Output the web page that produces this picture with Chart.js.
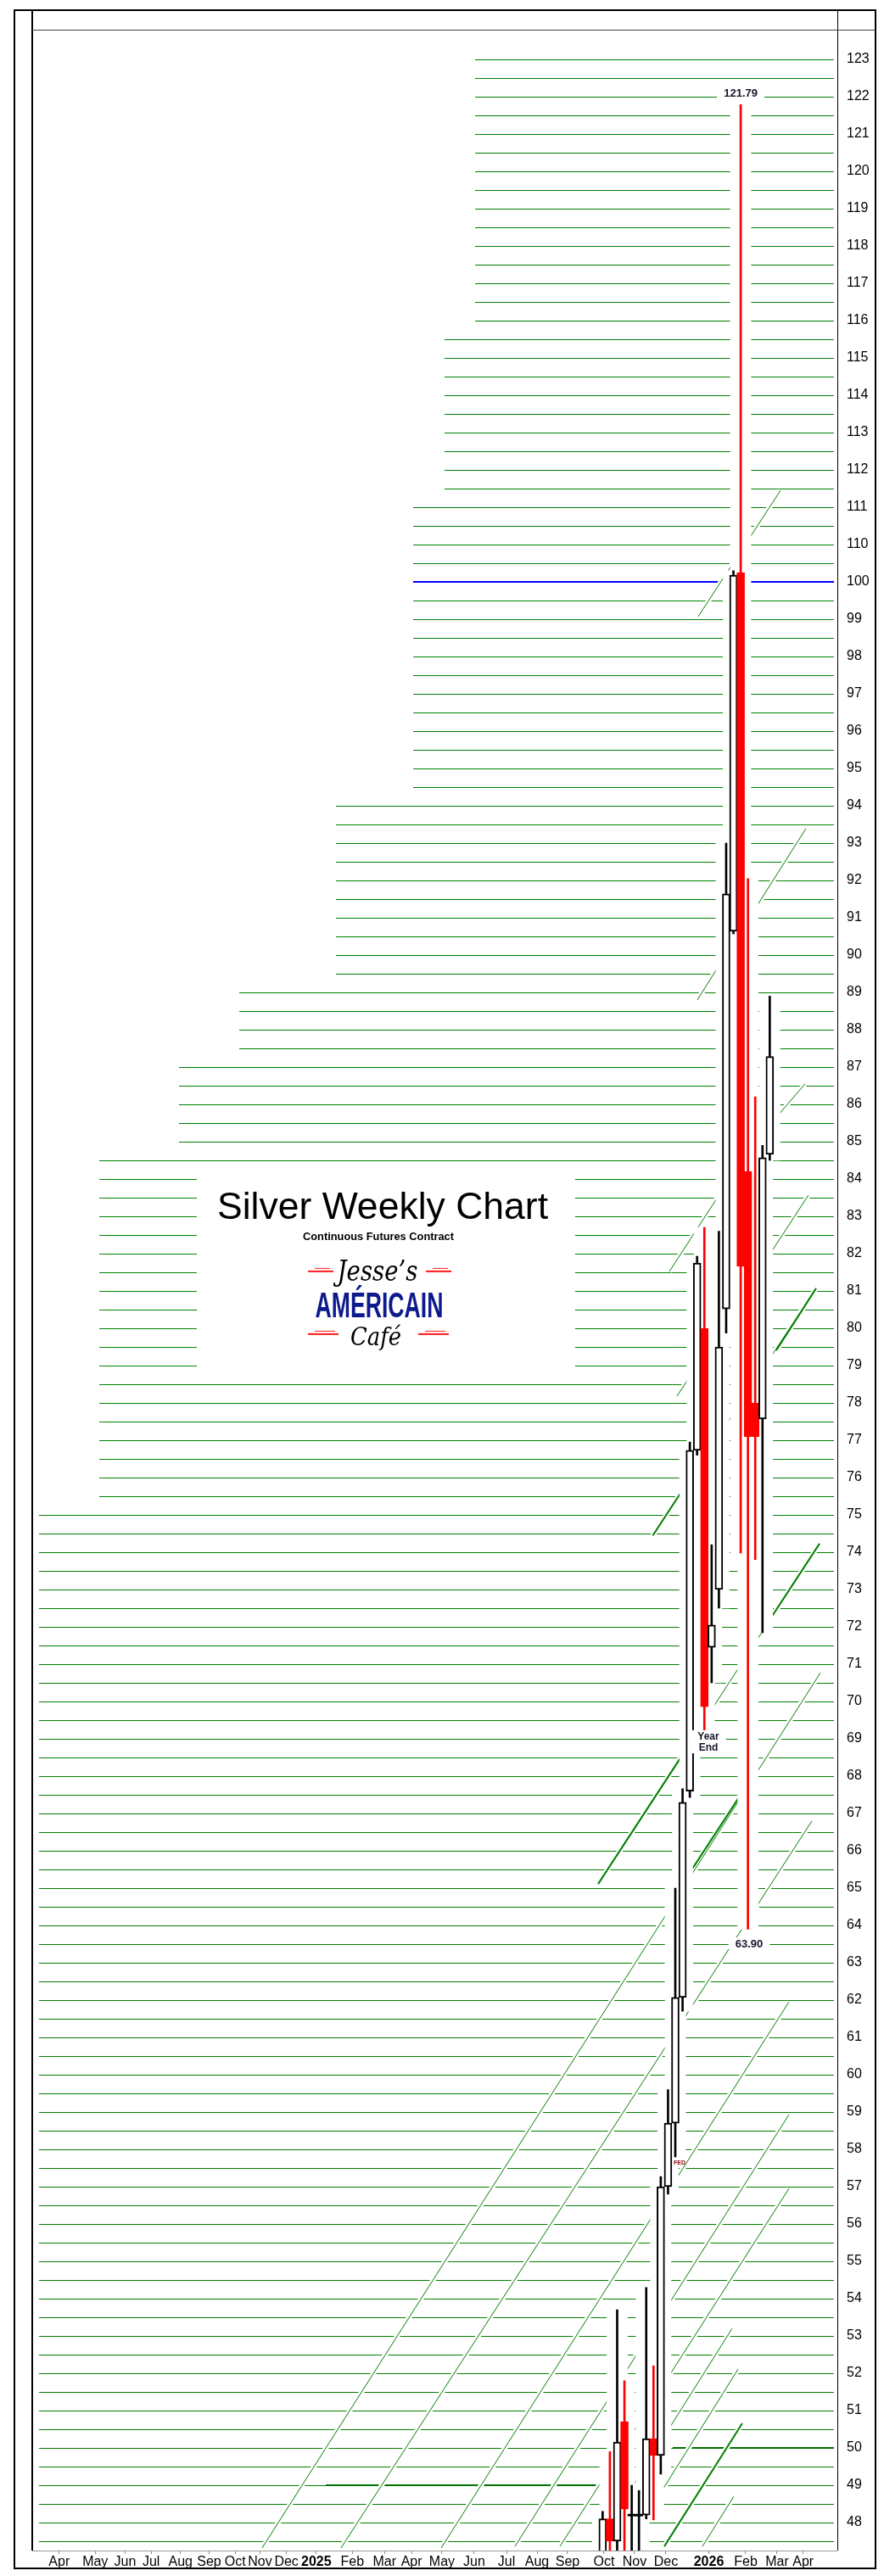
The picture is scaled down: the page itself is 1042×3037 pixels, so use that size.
<!DOCTYPE html>
<html>
<head>
<meta charset="utf-8">
<script src="https://cdn.jsdelivr.net/npm/chart.js@4/dist/chart.umd.min.js"></script>
<style>
  html, body { margin: 0; padding: 0; background: #fff; }
  canvas { display: block; }
</style>
</head>
<body>
<canvas id="chart" width="1042" height="3037"></canvas>
<script>
// Weekly bars: bar index on the x axis, prices in dollars
const barIndex = [79, 80, 81, 82, 83, 84, 85, 86, 87, 88, 89, 90, 91, 92, 93, 94, 95, 96, 97, 98, 99, 100, 101, 102];
const opens  = [46.9, 48.1, 47.5, 50.7, 48.2, 48.2, 48.2, 50.25, 49.8, 57.0, 58.7, 62.07, 67.6, 76.73, 80.0, 71.45, 73.0, 80.52, 90.64, 102.4, 84.2, 78.0, 77.57, 84.66];
const highs  = [48.3, 49.9, 53.7, 51.8, 49.0, 48.86, 54.3, 52.2, 57.27, 59.6, 65.0, 67.66, 76.95, 81.93, 82.7, 74.2, 82.6, 93.0, 103.0, 121.79, 92.05, 86.2, 84.9, 88.9];
const lows   = [46.4, 46.9, 47.0, 47.0, 46.9, 46.9, 48.1, 48.07, 49.3, 56.8, 57.8, 61.7, 67.43, 76.6, 69.2, 70.5, 72.5, 79.87, 90.57, 73.98, 63.9, 73.8, 71.84, 84.5];
const closes = [48.1, 47.5, 50.16, 48.36, 48.2, 48.2, 50.25, 49.8, 57.0, 58.7, 62.07, 67.3, 76.73, 81.75, 69.86, 72.05, 79.5, 91.64, 101.8, 81.66, 77.1, 77.1, 84.57, 87.28];

// Month labels along the bottom and where they sit (bar index)
const monthLabels = ['Apr', 'May', 'Jun', 'Jul', 'Aug', 'Sep', 'Oct', 'Nov', 'Dec', '2025', 'Feb', 'Mar', 'Apr', 'May', 'Jun', 'Jul', 'Aug', 'Sep', 'Oct', 'Nov', 'Dec', '2026', 'Feb', 'Mar', 'Apr'];
const monthPos    = [4.21, 9.17, 13.28, 16.86, 20.9, 24.84, 28.42, 31.84, 35.48, 39.59, 44.55, 48.98, 52.7, 56.89, 61.32, 65.77, 69.97, 74.17, 79.19, 83.39, 87.71, 93.61, 98.69, 103.01, 106.6];

// Price ticks on the right (axis is broken between 100 and 110)
const tickFrom = 48;
const tickTo = 123;

// Half-point guide lines: lowest level of each step and the bar where it starts
const stairLow   = [116, 111.5, 94.5, 89.5, 87.5, 85, 75.5, 47.5];
const stairStart = [61.45, 57.24, 52.92, 42.3, 28.99, 20.7, 9.72, 1.43];

// Heavier levels: [price, from bar, to bar]
const keyLevels = [[50, 88.65, 110.83], [49, 40.9, 78.1]];

// Rising trend segments [bar1, price1, bar2, price2]
const trendThin = [
  [32.14, 47.32, 108.97, 70.77], [43.0, 47.32, 107.8, 66.8], [56.78, 47.32, 104.64, 61.95],
  [66.93, 47.36, 104.64, 58.93], [73.12, 47.36, 104.64, 56.95], [77.79, 47.32, 96.82, 53.2],
  [82.23, 47.32, 97.64, 52.11], [92.73, 47.36, 97.05, 48.7], [78.38, 65.11, 108.85, 74.23],
  [85.91, 74.45, 108.38, 81.07], [89.23, 78.18, 107.33, 83.57], [88.18, 81.52, 94.72, 83.48],
  [103.24, 85.73, 106.86, 86.55], [92.03, 88.8, 106.98, 93.39], [92.15, 99.07, 103.48, 111.45]
];
const trendThick = [
  [85.91, 74.45, 90.05, 75.68], [102.9, 79.41, 108.38, 81.07], [101.96, 72.18, 108.85, 74.23],
  [78.38, 65.11, 89.82, 68.52], [91.22, 65.48, 98.46, 67.64], [87.48, 47.36, 98.22, 50.66]
];

// Text notes on the chart [text, bar, price]
const notes = [['121.79', 98.0, 122.11], ['63.90', 99.16, 63.52], ['Year', 93.55, 69.07], ['End', 93.55, 68.77]];
const fedNote = ['FED', 89.58, 57.64];

// Title panel corners [bar1, price1, bar2, price2]
const titleBox = [23.15, 84.23, 75.2, 78.77];

// price -> axis position (100..110 squeezed into one step)
function toAxis(p) {
  if (p <= 100) return p;
  if (p <= 110) return 100 + (p - 100) / 10;
  return p - 9;
}
function axisLabel(v) {
  return v <= 100 ? v : v + 9;
}

const GREEN = '#008000';
const candleColor = closes.map((c, k) => c < opens[k] ? '#ff0000' : '#000000');
const bodyFill = closes.map((c, k) => c < opens[k] ? '#ff0000' : (c === opens[k] ? '#000000' : '#ffffff'));

function span(k, a, b) {
  return { x: barIndex[k], y: [toAxis(a), toAxis(b)] };
}

function segPoints(list) {
  const pts = [];
  list.forEach(s => {
    pts.push({ x: s[0], y: toAxis(s[1]) });
    pts.push({ x: s[2], y: toAxis(s[3]) });
    pts.push({ x: s[2], y: null });
  });
  return pts;
}

function fitText(ctx, text, font, cx, base, w, color) {
  ctx.save();
  ctx.font = font;
  const m = ctx.measureText(text).width;
  ctx.translate(cx, base);
  ctx.scale(w / m, 1);
  ctx.fillStyle = color;
  ctx.textAlign = 'center';
  ctx.textBaseline = 'alphabetic';
  ctx.fillText(text, 0, 0);
  ctx.restore();
}

const decor = {
  id: 'decor',
  beforeDatasetsDraw(chart) {
    const { ctx, chartArea: a, scales: { x, y } } = chart;
    ctx.save();
    // half point guide lines
    for (let lv = stairLow[stairLow.length - 1]; lv <= tickTo + 0.001; lv += 0.5) {
      if (lv > 100 && lv < 110) continue;
      const g = stairLow.findIndex(low => lv >= low - 0.001);
      const x1 = Math.round(x.getPixelForValue(stairStart[g]));
      const x2 = a.right - 4;
      const py = Math.round(y.getPixelForValue(toAxis(lv)));
      if (lv === 100) {
        ctx.fillStyle = '#0000ff';
        ctx.fillRect(x1, py - 1, x2 - x1, 2);
      } else {
        ctx.fillStyle = GREEN;
        ctx.fillRect(x1, py, x2 - x1, 1);
      }
    }
    // the squeezed half step between 100 and 110
    const mid = Math.round(y.getPixelForValue(100.5));
    const xm = Math.round(x.getPixelForValue(stairStart[2]));
    ctx.fillStyle = GREEN;
    ctx.fillRect(xm, mid, a.right - 4 - xm, 1);
    // heavier levels
    keyLevels.forEach(k => {
      const py = Math.round(y.getPixelForValue(toAxis(k[0])));
      const x1 = x.getPixelForValue(k[1]);
      const x2 = x.getPixelForValue(k[2]);
      ctx.fillStyle = '#007000';
      ctx.fillRect(x1, py - 1, x2 - x1, 2);
    });
    // title panel
    const bx1 = x.getPixelForValue(titleBox[0]);
    const by1 = y.getPixelForValue(titleBox[1]);
    const bx2 = x.getPixelForValue(titleBox[2]);
    const by2 = y.getPixelForValue(titleBox[3]);
    ctx.fillStyle = '#ffffff';
    ctx.fillRect(bx1, by1, bx2 - bx1, by2 - by1);
    ctx.restore();
  },
  afterDatasetsDraw(chart) {
    const { ctx, scales: { x, y } } = chart;
    ctx.save();
    // notes
    ctx.textAlign = 'center';
    ctx.textBaseline = 'middle';
    notes.forEach(n => {
      const px = x.getPixelForValue(n[1]);
      const py = y.getPixelForValue(toAxis(n[2]));
      ctx.font = (n[0].length > 4 ? 'bold 13px' : 'bold 12px') + ' "Liberation Sans", Arial, sans-serif';
      const w = ctx.measureText(n[0]).width;
      ctx.fillStyle = '#ffffff';
      ctx.fillRect(px - w / 2 - 8, py - 7, w + 16, 14);
    });
    notes.forEach(n => {
      const px = x.getPixelForValue(n[1]);
      const py = y.getPixelForValue(toAxis(n[2]));
      ctx.font = (n[0].length > 4 ? 'bold 13px' : 'bold 12px') + ' "Liberation Sans", Arial, sans-serif';
      ctx.fillStyle = '#15152a';
      ctx.fillText(n[0], px, py + 1);
    });
    ctx.font = 'bold 7px "Liberation Sans", Arial, sans-serif';
    ctx.fillStyle = '#8b0000';
    ctx.fillText(fedNote[0], x.getPixelForValue(fedNote[1]), y.getPixelForValue(fedNote[2]));

    // title and logo
    const bx1 = x.getPixelForValue(titleBox[0]);
    const by1 = y.getPixelForValue(titleBox[1]);
    const cx = bx1 + 219;
    fitText(ctx, 'Silver Weekly Chart', '44px "Liberation Sans", Arial, sans-serif', cx, by1 + 57, 390, '#000000');
    fitText(ctx, 'Continuous Futures Contract', 'bold 13px "Liberation Sans", Arial, sans-serif', cx - 5, by1 + 82, 178, '#000000');
    const lx = cx - 6;
    fitText(ctx, 'Jesse\u2019s', 'italic 34px "DejaVu Serif", serif', lx, by1 + 130, 95, '#000000');
    fitText(ctx, 'AM\u00C9RICAIN', 'bold 43px "Liberation Sans", Arial, sans-serif', lx + 2, by1 + 173, 151, '#0d1a8c');
    fitText(ctx, 'Caf\u00E9', 'italic 30px "DejaVu Serif", serif', lx - 2, by1 + 206, 60, '#000000');
    ctx.fillStyle = '#ff1a1a';
    [[-82, 118], [57, 118], [-82, 192], [48, 192]].forEach(d => {
      const w = d[1] > 150 ? 36 : 30;
      ctx.fillRect(lx + d[0], by1 + d[1], w, 2);
      ctx.fillRect(lx + d[0] + 8, by1 + d[1] - 3, w - 12, 1);
    });

    ctx.restore();
  },
  afterDraw(chart) {
    const { ctx, chartArea: a } = chart;
    ctx.save();
    // outer frame
    ctx.strokeStyle = '#000000';
    ctx.lineWidth = 2;
    ctx.strokeRect(17, 12, 1015, 3016);
    // plot frame
    ctx.fillStyle = '#000000';
    ctx.fillRect(a.left - 1, 12, 2, a.bottom - 12);
    ctx.fillRect(a.right, 12, 1, a.bottom - 12);
    ctx.fillStyle = '#444444';
    ctx.fillRect(a.left, a.top, 1032 - a.left, 1);
    ctx.fillStyle = '#9a9a9a';
    ctx.fillRect(a.left, a.bottom, a.right - a.left, 1);
    ctx.restore();
  }
};

Chart.defaults.font.family = '"Liberation Sans", Arial, sans-serif';

new Chart(document.getElementById('chart'), {
  type: 'bar',
  data: {
    datasets: [
      {
        type: 'line', label: 'trend halo',
        data: segPoints(trendThin.concat(trendThick)),
        borderColor: '#ffffff', borderWidth: 6, pointRadius: 0, spanGaps: false, order: 6
      },
      {
        type: 'line', label: 'trend',
        data: segPoints(trendThin),
        borderColor: GREEN, borderWidth: 1, pointRadius: 0, spanGaps: false, order: 5
      },
      {
        type: 'line', label: 'trend heavy',
        data: segPoints(trendThick),
        borderColor: GREEN, borderWidth: 2, pointRadius: 0, spanGaps: false, order: 4
      },
      {
        label: 'clear',
        data: barIndex.map((_, k) => span(k, lows[k], highs[k])),
        backgroundColor: '#ffffff', barThickness: 24, grouped: false, order: 3
      },
      {
        label: 'range',
        data: barIndex.map((_, k) => span(k, lows[k], highs[k])),
        backgroundColor: candleColor, barThickness: 2, grouped: false, order: 1
      },
      {
        label: 'body',
        data: barIndex.map((_, k) => opens[k] === closes[k]
          ? span(k, opens[k] - 0.025, opens[k] + 0.025)
          : span(k, opens[k], closes[k])),
        backgroundColor: bodyFill, borderColor: candleColor,
        borderWidth: closes.map((c, k) => c === opens[k] ? 0 : 2),
        borderSkipped: false, barThickness: 9, grouped: false, order: 0
      }
    ]
  },
  options: {
    responsive: false,
    animation: false,
    events: [],
    layout: { padding: { left: 38, right: 10, top: 35, bottom: 9 } },
    plugins: { legend: { display: false }, tooltip: { enabled: false } },
    scales: {
      x: {
        type: 'linear', min: 0.5, max: 111.3, offset: false,
        grid: { offset: false, drawOnChartArea: false, drawTicks: true, tickLength: 4, color: '#8a8a8a' },
        border: { display: false },
        afterBuildTicks: s => { s.ticks = monthPos.map(v => ({ value: v })); },
        afterFit: s => { s.height = 21; },
        ticks: {
          autoSkip: false, maxRotation: 0, minRotation: 0, padding: 0, color: '#000000',
          font: c => ({ size: 16, weight: /^\d{4}$/.test(monthLabels[c.index]) ? 'bold' : 'normal' }),
          callback: (v, i) => monthLabels[i]
        }
      },
      y: {
        type: 'linear', position: 'right', min: 47.25, max: 114.795,
        grid: { display: false },
        border: { display: false },
        afterBuildTicks: s => {
          const t = [];
          for (let v = tickFrom; v <= toAxis(tickTo); v++) t.push({ value: v });
          s.ticks = t;
        },
        afterFit: s => { s.width = 45; },
        ticks: {
          padding: 3, color: '#000000', font: { size: 16 },
          callback: v => String(axisLabel(v))
        }
      }
    }
  },
  plugins: [decor]
});
</script>
</body>
</html>
